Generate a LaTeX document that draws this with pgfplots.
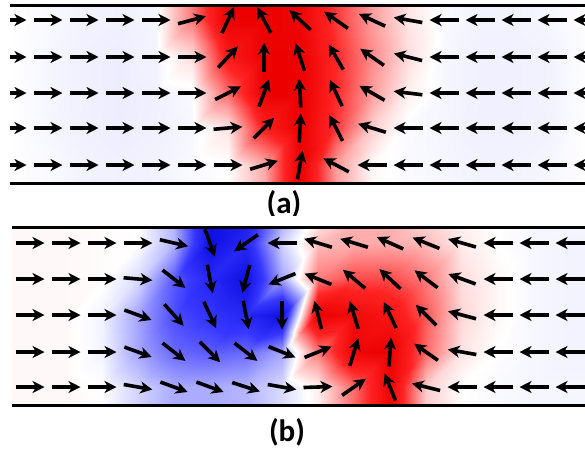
\documentclass[border=0pt]{standalone}
\usepackage{pgfplots}
\pgfplotsset{compat=1.18}
\usepackage{fontspec}
\setmainfont{Carlito}
\usetikzlibrary{arrows.meta}

\pgfplotsset{
  panel/.style={
    x=1pt, y=1pt, y dir=reverse, hide axis, anchor=north west,
    colormap={bwr}{rgb255=(15,15,230) rgb255=(55,55,255) rgb255=(155,155,255) rgb255=(255,255,255) rgb255=(255,145,145) rgb255=(255,35,35) rgb255=(236,0,0)},
    point meta min=-1, point meta max=1,
  },
  arr/.style={black, line width=3.6pt, -{Stealth[length=12pt,width=12pt,inset=3.5pt]},
    quiver={u={29*cos(\thisrow{a})}, v={-29*sin(\thisrow{a})}, scale arrows=1,
      every arrow/.append style={line width=3.6pt}}},
}

\begin{document}
\begin{tikzpicture}
\path[use as bounding box] (0,0) rectangle (585pt,-450pt);

% ---------------- panel (a) ----------------
\begin{axis}[panel, xmin=10, xmax=585, ymin=0, ymax=215, at={(10pt,0pt)}]
\addplot[surf, shader=interp, mesh/cols=17, point meta=\thisrow{c}] table {
x y c
10 5 0
48 5 -0.02
84 5 -0.04
120 5 -0.05
156 5 -0.03
192 5 0.4
228 5 1
264 5 1
300 5 0.95
336 5 0.6
372 5 0.3
408 5 0.08
444 5 -0.02
480 5 -0.04
516 5 -0.04
552 5 -0.03
589 5 0
10 20 0
48 20 -0.02
84 20 -0.04
120 20 -0.05
156 20 -0.03
192 20 0.4
228 20 1
264 20 1
300 20 0.95
336 20 0.6
372 20 0.3
408 20 0.08
444 20 -0.02
480 20 -0.04
516 20 -0.04
552 20 -0.03
589 20 0
10 57 0
48 57 -0.03
84 57 -0.05
120 57 -0.06
156 57 -0.04
192 57 0.1
228 57 0.75
264 57 1
300 57 1
336 57 0.65
372 57 0.35
408 57 0.1
444 57 -0.03
480 57 -0.05
516 57 -0.05
552 57 -0.04
589 57 0
10 93 0
48 93 -0.03
84 93 -0.05
120 93 -0.06
156 93 -0.05
192 93 -0.02
228 93 0.45
264 93 1
300 93 1
336 93 0.65
372 93 0.3
408 93 0.05
444 93 -0.03
480 93 -0.05
516 93 -0.05
552 93 -0.04
589 93 0
10 128 0
48 128 -0.03
84 128 -0.05
120 128 -0.06
156 128 -0.05
192 128 -0.03
228 128 0.08
264 128 0.7
300 128 1
336 128 0.6
372 128 0.15
408 128 -0.02
444 128 -0.03
480 128 -0.05
516 128 -0.05
552 128 -0.04
589 128 0
10 165 0
48 165 -0.02
84 165 -0.04
120 165 -0.05
156 165 -0.04
192 165 -0.02
228 165 0
264 165 0.25
300 165 1
336 165 0.3
372 165 0.02
408 165 -0.02
444 165 -0.03
480 165 -0.04
516 165 -0.04
552 165 -0.03
589 165 0
10 183 0
48 183 -0.02
84 183 -0.04
120 183 -0.05
156 183 -0.04
192 183 -0.02
228 183 0
264 183 0.25
300 183 1
336 183 0.3
372 183 0.02
408 183 -0.02
444 183 -0.03
480 183 -0.04
516 183 -0.04
552 183 -0.03
589 183 0
};
\addplot[black, line width=3pt] coordinates {(10,5) (585,5)};
\addplot[black, line width=3pt] coordinates {(10,183) (585,183)};
\addplot[arr] table[x expr={\thisrow{x}-14.5*cos(\thisrow{a})}, y expr={\thisrow{y}+14.5*sin(\thisrow{a})}] {
x y a
12 20 0
48 20 0
84 20 0
120 20 0
156 20 0
192 20 15
228 20 65
264 20 118
300 20 137
336 20 145
372 20 155
408 20 170
444 20 180
480 20 180
516 20 180
552 20 180
588 20 180
12 57 0
48 57 0
84 57 0
120 57 0
156 57 0
192 57 0
228 57 47
264 57 90
300 57 108
336 57 120
372 57 145
408 57 166
444 57 180
480 57 180
516 57 180
552 57 180
588 57 180
12 93 0
48 93 0
84 93 0
120 93 0
156 93 0
192 93 0
228 93 27
264 93 70
300 93 93
336 93 115
372 93 150
408 93 173
444 93 180
480 93 180
516 93 180
552 93 180
588 93 180
12 128 0
48 128 0
84 128 0
120 128 0
156 128 0
192 128 0
228 128 5
264 128 45
300 128 87
336 128 117
372 128 163
408 128 180
444 128 180
480 128 180
516 128 180
552 128 180
588 128 180
12 165 0
48 165 0
84 165 0
120 165 0
156 165 0
192 165 0
228 165 0
264 165 17
300 165 80
336 165 152
372 165 180
408 165 180
444 165 180
480 165 180
516 165 180
552 165 180
588 165 180
};
\node[font=\fontsize{31}{34}\selectfont\bfseries] at (axis cs:284,204) {(a)};
\end{axis}

% ---------------- panel (b) ----------------
\begin{axis}[panel, xmin=0, xmax=585, ymin=215, ymax=450, at={(0pt,-215pt)}]
\addplot[surf, shader=interp, mesh/cols=18, point meta=\thisrow{c}] table {
x y c
12 227 0.02
30 227 0.02
66 227 0.02
102 227 0.01
138 227 0
174 227 -0.25
210 227 -1
246 227 -0.85
282 227 -0.25
318 227 0.1
354 227 0.25
390 227 0.25
426 227 0.15
462 227 0.05
498 227 0
534 227 -0.03
570 227 -0.03
585 227 -0.03
12 243 0.02
30 243 0.02
66 243 0.02
102 243 0.01
138 243 0
174 243 -0.25
210 243 -1
246 243 -0.8
282 243 -0.15
318 243 0.2
354 243 0.25
390 243 0.25
426 243 0.2
462 243 0.06
498 243 0
534 243 -0.03
570 243 -0.04
585 243 -0.04
12 279 0.02
30 279 0.02
66 279 0.02
102 279 0.01
138 279 -0.12
174 279 -0.55
210 279 -0.8
246 279 -1
282 279 -0.3
318 279 0.4
354 279 0.55
390 279 0.55
426 279 0.4
462 279 0.1
498 279 0.02
534 279 -0.03
570 279 -0.04
585 279 -0.04
12 315 0.02
30 315 0.02
66 315 0.02
102 315 -0.04
138 315 -0.3
174 315 -0.6
210 315 -0.7
246 315 -0.8
282 315 -1
318 315 1
354 315 0.9
390 315 0.8
426 315 0.5
462 315 0.12
498 315 0.02
534 315 -0.03
570 315 -0.04
585 315 -0.04
12 352 0.02
30 352 0.02
66 352 0.02
102 352 -0.04
138 352 -0.3
174 352 -0.5
210 352 -0.55
246 352 -0.5
282 352 -0.3
318 352 0.4
354 352 0.95
390 352 1
426 352 0.45
462 352 0.08
498 352 0
534 352 -0.03
570 352 -0.04
585 352 -0.04
12 387 0.02
30 387 0.02
66 387 0.02
102 387 0
138 387 -0.15
174 387 -0.28
210 387 -0.28
246 387 -0.25
282 387 -0.12
318 387 0.05
354 387 0.45
390 387 0.95
426 387 0.15
462 387 0
498 387 -0.02
534 387 -0.03
570 387 -0.03
585 387 -0.03
12 405 0.02
30 405 0.02
66 405 0.02
102 405 0
138 405 -0.15
174 405 -0.28
210 405 -0.28
246 405 -0.25
282 405 -0.12
318 405 0.05
354 405 0.45
390 405 0.95
426 405 0.15
462 405 0
498 405 -0.02
534 405 -0.03
570 405 -0.03
585 405 -0.03
};
\addplot[black, line width=3pt] coordinates {(12,227) (585,227)};
\addplot[black, line width=3pt] coordinates {(12,405) (585,405)};
\addplot[arr] table[x expr={\thisrow{x}-14.5*cos(\thisrow{a})}, y expr={\thisrow{y}+14.5*sin(\thisrow{a})}] {
x y a
30 243 0
66 243 0
102 243 0
138 243 0
174 243 -13
210 243 -70
246 243 -145
282 243 180
318 243 163
354 243 163
390 243 156
426 243 158
462 243 164
498 243 180
534 243 180
570 243 180
30 279 0
66 279 0
102 279 0
138 279 -5
174 279 -38
210 279 -79
246 279 -105
282 279 -158
318 279 158
354 279 140
390 279 137
426 279 143
462 279 160
498 279 180
534 279 180
570 279 180
30 315 0
66 315 0
102 315 0
138 315 -20
174 315 -48
210 315 -65
246 315 -79
282 315 -90
318 315 104
354 315 107
390 315 115
426 315 135
462 315 165
498 315 180
534 315 180
570 315 180
30 352 0
66 352 0
102 352 0
138 352 -20
174 352 -38
210 352 -45
246 352 -38
282 352 -22
318 352 22
354 352 73
390 352 86
426 352 145
462 352 170
498 352 180
534 352 180
570 352 180
30 387 0
66 387 0
102 387 0
138 387 -10
174 387 -20
210 387 -20
246 387 -18
282 387 -10
318 387 2
354 387 35
390 387 112
426 387 166
462 387 180
498 387 180
534 387 180
570 387 180
};
\node[font=\fontsize{31}{34}\selectfont\bfseries] at (axis cs:287,432) {(b)};
\end{axis}
\end{tikzpicture}
\end{document}
